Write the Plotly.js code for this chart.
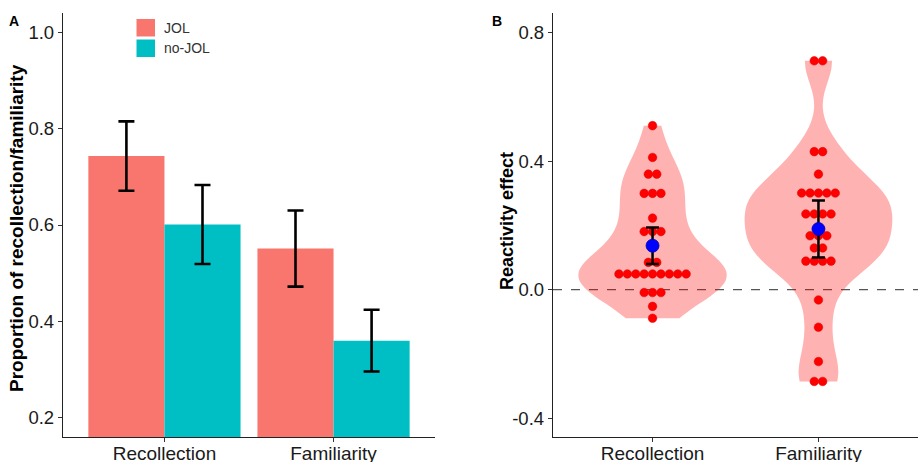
<!DOCTYPE html>
<html>
<head>
<meta charset="utf-8">
<script src="https://cdn.plot.ly/plotly-3.0.1.min.js"></script>
<style>html,body{margin:0;padding:0;background:#fff;}#chart{width:919px;height:462px;}</style>
</head>
<body>
<div id="chart"></div>
<script>
// ---------- Data ----------
const categories = ["Recollection", "Familiarity"];
const jolMeans = [0.743, 0.551];
const jolErr = [0.072, 0.079];
const noJolMeans = [0.601, 0.360];
const noJolErr = [0.082, 0.064];
const seriesNames = ["JOL", "no-JOL"];

const yTicksA = [0.2, 0.4, 0.6, 0.8, 1.0];
const yTickTextA = ["0.2", "0.4", "0.6", "0.8", "1.0"];
const yTicksB = [-0.4, 0.0, 0.4, 0.8];
const yTickTextB = ["-0.4", "0.0", "0.4", "0.8"];

// Individual reactivity effects (dot plot)
const recollectionEffects = [0.511, 0.412, 0.360, 0.360, 0.300, 0.300, 0.300, 0.223,
  0.181, 0.181, 0.181, 0.085, 0.085,
  0.049, 0.049, 0.049, 0.049, 0.049, 0.049, 0.049, 0.049, 0.049,
  -0.009, -0.009, -0.009, -0.052, -0.089];
const familiarityEffects = [0.713, 0.713, 0.430, 0.430, 0.360,
  0.301, 0.301, 0.301, 0.301, 0.301,
  0.236, 0.236, 0.236, 0.236,
  0.168, 0.168, 0.168, 0.130, 0.130,
  0.089, 0.089, 0.089, 0.089,
  -0.032, -0.117, -0.224, -0.286, -0.286];
const effectMeans = [0.137, 0.189];
const effectCI = [0.057, 0.089];

// ---------- Helpers ----------
const W = 919, H = 462;
const FONT = "Liberation Sans, Arial, sans-serif";
function px(x) { return x / W; }
function py(y) { return 1 - y / H; }

function nrd0(v) {
  const n = v.length;
  const m = v.reduce((a, b) => a + b, 0) / n;
  const sd = Math.sqrt(v.reduce((a, b) => a + (b - m) * (b - m), 0) / (n - 1));
  const s = v.slice().sort((a, b) => a - b);
  const q = p => { const h = (n - 1) * p; const lo = Math.floor(h); return s[lo] + (h - lo) * ((s[lo + 1] ?? s[lo]) - s[lo]); };
  const iqr = q(0.75) - q(0.25);
  let lo = Math.min(sd, iqr / 1.34);
  if (!(lo > 0)) lo = sd;
  return 0.9 * lo * Math.pow(n, -0.2);
}

// Panel geometry (pixels)
const axA = {x0: 63, x1: 435}, axB = {x0: 553, x1: 918};
const yTop = 13, yBot = 437;
const xRange = [-0.6, 1.6];
const dotPx = 8.6;
const dotUnits = 8.4 * (xRange[1] - xRange[0]) / (axB.x1 - axB.x0);

function stackDots(vals, center) {
  const groups = {};
  vals.forEach(v => { const k = v.toFixed(4); (groups[k] = groups[k] || []).push(v); });
  const xs = [], ys = [];
  Object.values(groups).forEach(g => {
    const k = g.length;
    g.forEach((v, i) => { xs.push(center + (i - (k - 1) / 2) * dotUnits); ys.push(v); });
  });
  return {xs, ys};
}

const catIdx = categories.map((c, i) => i);
const barColors = ["#F8766D", "#00BFC4"];

const traces = [
  {type: "bar", x: catIdx, y: jolMeans, name: seriesNames[0], marker: {color: barColors[0]},
   error_y: {type: "data", array: jolErr, color: "#000", thickness: 2.6, width: 8},
   xaxis: "x", yaxis: "y", showlegend: false, hoverinfo: "skip"},
  {type: "bar", x: catIdx, y: noJolMeans, name: seriesNames[1], marker: {color: barColors[1]},
   error_y: {type: "data", array: noJolErr, color: "#000", thickness: 2.6, width: 8},
   xaxis: "x", yaxis: "y", showlegend: false, hoverinfo: "skip"}
];

[recollectionEffects, familiarityEffects].forEach((vals, i) => {
  traces.push({type: "violin", y: vals, x0: i, name: categories[i], xaxis: "x2", yaxis: "y2",
    width: 0.89, scalemode: "width", spanmode: "hard", bandwidth: nrd0(vals),
    fillcolor: "rgba(255,0,0,0.3)", line: {width: 0, color: "rgba(0,0,0,0)"},
    points: false, box: {visible: false}, meanline: {visible: false},
    showlegend: false, hoverinfo: "skip", orientation: "v"});
});

[recollectionEffects, familiarityEffects].forEach((vals, i) => {
  const d = stackDots(vals, i);
  traces.push({type: "scatter", mode: "markers", x: d.xs, y: d.ys, xaxis: "x2", yaxis: "y2",
    marker: {size: dotPx, color: "#FF0000", line: {color: "#E00000", width: 0.5}},
    showlegend: false, hoverinfo: "skip", cliponaxis: false});
});

traces.push({type: "scatter", mode: "markers", x: catIdx, y: effectMeans, xaxis: "x2", yaxis: "y2",
  marker: {size: 13, color: "#0000FF", line: {color: "#0000B0", width: 0.8}},
  error_y: {type: "data", array: effectCI, color: "#000", thickness: 2.5, width: 6.5},
  showlegend: false, hoverinfo: "skip", cliponaxis: false});

const axisCommon = {
  showline: true, linecolor: "#222", linewidth: 1.2, ticks: "outside", ticklen: 4,
  tickcolor: "#333", tickwidth: 1, showgrid: false, zeroline: false, automargin: false,
  tickfont: {family: FONT, size: 18.5, color: "#1a1a1a"}, fixedrange: true
};
const xAxisExtra = {ticklabelstandoff: -5, tickfont: {family: FONT, size: 19, color: "#1a1a1a"}};

const layout = {
  width: W, height: H,
  margin: {l: 0, r: 0, t: 0, b: 0, pad: 0},
  paper_bgcolor: "#fff", plot_bgcolor: "rgba(0,0,0,0)",
  showlegend: false,
  barmode: "group", bargap: 0.1, bargroupgap: 0,
  violinmode: "overlay",
  xaxis: Object.assign({}, axisCommon, xAxisExtra, {domain: [px(axA.x0), px(axA.x1)], range: xRange,
    tickvals: catIdx, ticktext: categories, anchor: "y"}),
  yaxis: Object.assign({}, axisCommon, {domain: [py(yBot), py(yTop)], range: [0.16, 1.04],
    tickvals: yTicksA, ticktext: yTickTextA, anchor: "x"}),
  xaxis2: Object.assign({}, axisCommon, xAxisExtra, {domain: [px(axB.x0), px(axB.x1)], range: xRange,
    tickvals: catIdx, ticktext: categories, anchor: "y2"}),
  yaxis2: Object.assign({}, axisCommon, {domain: [py(yBot), py(yTop)], range: [-0.459, 0.862],
    tickvals: yTicksB, ticktext: yTickTextB, anchor: "x2"}),
  shapes: [
    {type: "line", xref: "paper", yref: "y2", x0: px(axB.x0), x1: px(axB.x1), y0: 0, y1: 0,
     line: {color: "#555", width: 1.2, dash: "dash"}, layer: "below"},
    {type: "rect", xref: "paper", yref: "paper", x0: px(136.5), x1: px(155), y0: py(36.5), y1: py(19),
     fillcolor: barColors[0], line: {width: 0}},
    {type: "rect", xref: "paper", yref: "paper", x0: px(136.5), x1: px(155), y0: py(57), y1: py(39.5),
     fillcolor: barColors[1], line: {width: 0}}
  ],
  annotations: [
    {text: "<b>A</b>", xref: "paper", yref: "paper", x: px(13.5), y: py(21), xanchor: "center", yanchor: "middle",
     showarrow: false, font: {family: FONT, size: 14, color: "#000"}},
    {text: "<b>B</b>", xref: "paper", yref: "paper", x: px(497), y: py(21), xanchor: "center", yanchor: "middle",
     showarrow: false, font: {family: FONT, size: 14, color: "#000"}},
    {text: "<b>Proportion of recollection/familiarity</b>", xref: "paper", yref: "paper",
     x: px(17), y: py(228), xanchor: "center", yanchor: "middle", textangle: -90, showarrow: false,
     font: {family: FONT, size: 19, color: "#000"}},
    {text: "<b>Reactivity effect</b>", xref: "paper", yref: "paper",
     x: px(507), y: py(221), xanchor: "center", yanchor: "middle", textangle: -90, showarrow: false,
     font: {family: FONT, size: 18, color: "#000"}},
    {text: seriesNames[0], xref: "paper", yref: "paper", x: px(162), y: py(28), xanchor: "left", yanchor: "middle",
     showarrow: false, font: {family: FONT, size: 14, color: "#333"}},
    {text: seriesNames[1], xref: "paper", yref: "paper", x: px(162), y: py(48.5), xanchor: "left", yanchor: "middle",
     showarrow: false, font: {family: FONT, size: 14, color: "#333"}}
  ]
};

Plotly.newPlot("chart", traces, layout, {staticPlot: true, displayModeBar: false});
</script>
</body>
</html>
